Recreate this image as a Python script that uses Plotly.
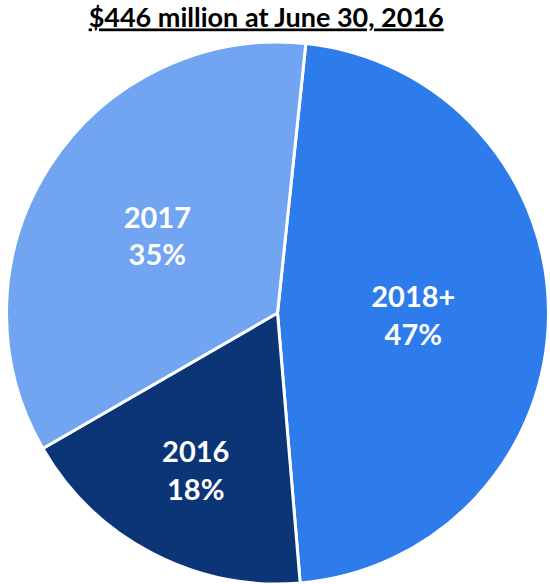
import plotly.graph_objects as go

labels = ["2018+", "2016", "2017"]
values = [47, 18, 35]
colors = ["#2E7BEC", "#0B3577", "#71A4F1"]
title_text = "$446 million at June 30, 2016"

fig = go.Figure(go.Pie(
    labels=labels,
    values=values,
    sort=False,
    direction="clockwise",
    rotation=6,
    domain=dict(x=[5 / 550, 1.0], y=[0.0, 1 - 42 / 584]),
    marker=dict(colors=colors, line=dict(color="white", width=3)),
    texttemplate="%{label}<br>%{value}%",
    textposition="inside",
    insidetextorientation="horizontal",
    textfont=dict(family="Lato", size=29, color="white", weight="bold"),
    hoverinfo="label+percent",
    showlegend=False,
))

fig.update_layout(
    width=550, height=584,
    margin=dict(l=0, r=0, t=0, b=0),
    paper_bgcolor="white",
    plot_bgcolor="white",
    title=dict(
        text=title_text,
        x=0.484, xanchor="center",
        y=0.987, yanchor="top",
        font=dict(family="Lato", size=27, color="black", weight="bold", lineposition="under"),
    ),
    uniformtext=dict(minsize=29, mode="show"),
)

fig.write_html(
    "out.html",
    config={"displayModeBar": False},
    post_script="document.body.style.margin='0';document.body.style.overflow='hidden';",
)
